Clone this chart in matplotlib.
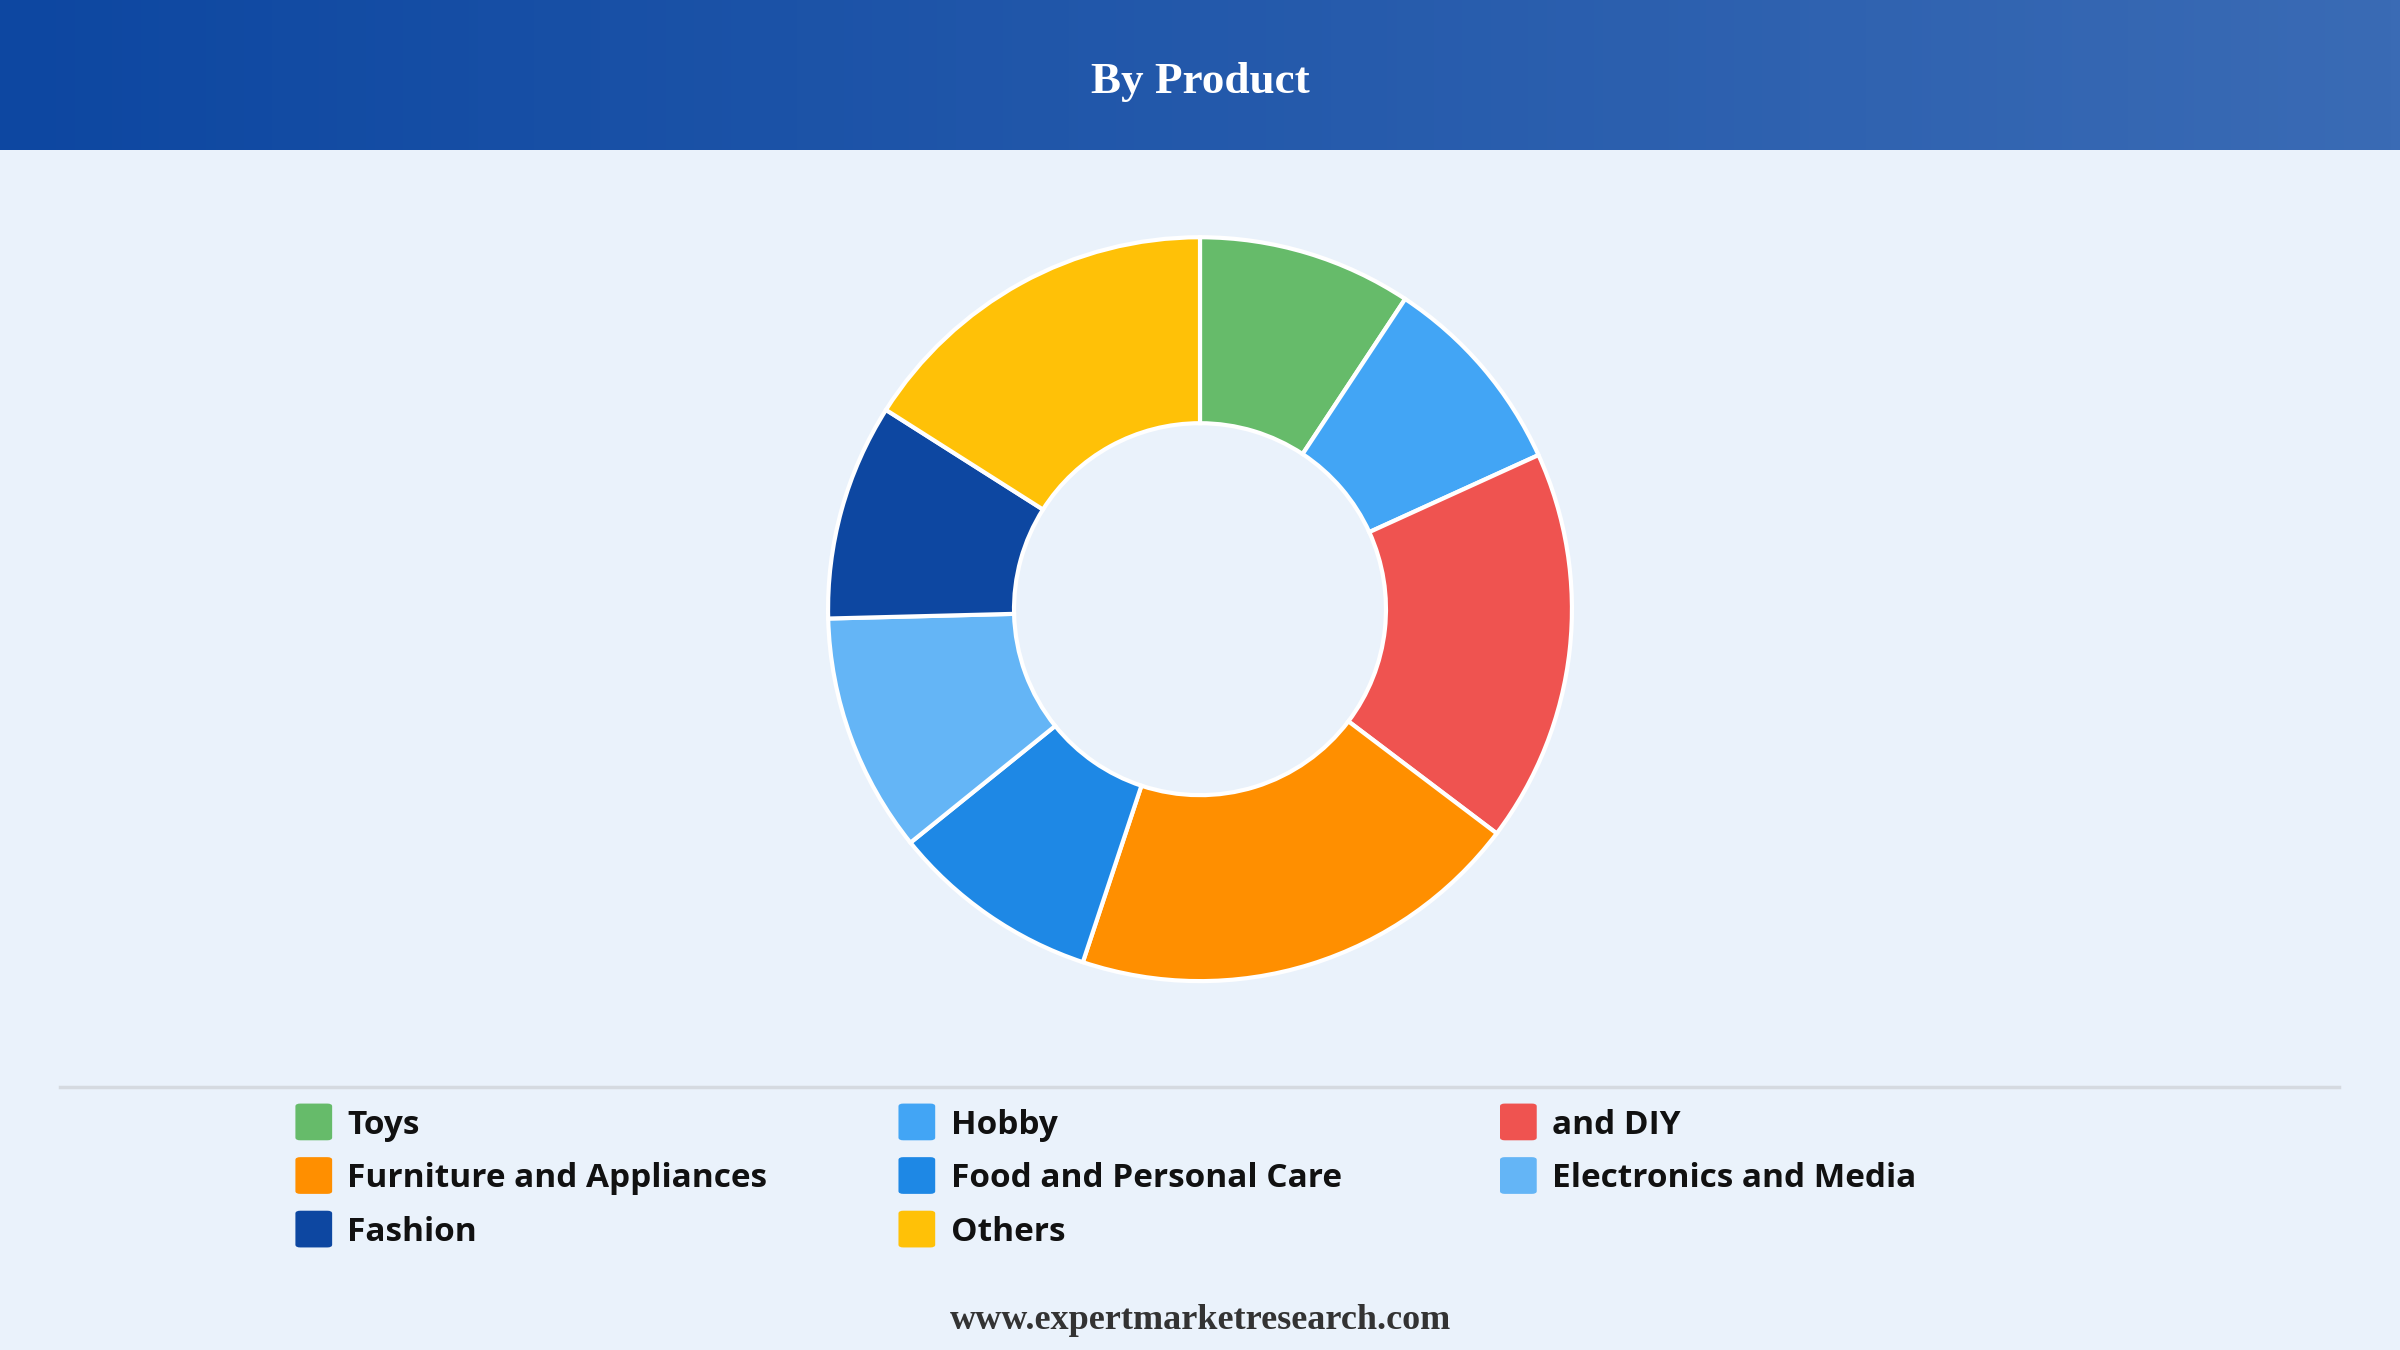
import numpy as np
from matplotlib import pyplot as plt
from matplotlib.patches import FancyBboxPatch
from matplotlib.colors import LinearSegmentedColormap

labels = ['Toys', 'Hobby', 'and DIY', 'Furniture and Appliances', 'Food and Personal Care',
          'Electronics and Media', 'Fashion', 'Others']
shares = [9.3, 8.9, 17.1, 19.8, 9.1, 10.4, 9.4, 16.0]
colors = ['#66BB6A', '#42A5F5', '#EF5350', '#FF8F00', '#1E88E5', '#64B5F6', '#0D47A1', '#FFC107']

W, H = 1568, 882  # reference layout units
fig = plt.figure(figsize=(24, 13.5), dpi=100)
fig.patch.set_facecolor('#EAF2FB')

# header band with gradient
hax = fig.add_axes([0, 1 - 98 / H, 1, 98 / H])
grad = np.linspace(0, 1, 256)[None, :]
cmap = LinearSegmentedColormap.from_list('hdr', ['#0D47A1', '#3A6BB5'])
hax.imshow(grad, aspect='auto', cmap=cmap, extent=[0, 1, 0, 1])
hax.set_axis_off()
hax.text(0.5, 0.45, 'By Product', ha='center', va='center', color='white',
         fontsize=32.5, fontweight='bold', family='Liberation Serif')

# donut
r = 243 / H
cy = 1 - 398 / H
w = 2 * r * H / W
ax = fig.add_axes([0.5 - w / 2, cy - r, w, 2 * r])
ax.pie(shares, colors=colors, startangle=90, counterclock=False, radius=1,
       wedgeprops=dict(width=0.5, edgecolor='white', linewidth=3))
ax.set_xlim(-1, 1)
ax.set_ylim(-1, 1)
ax.set_aspect('equal')
ax.set_axis_off()

# separator line
fig.add_artist(plt.Line2D([39 / W, 1528 / W], [1 - 710 / H] * 2, color='#D5DAE0',
                          linewidth=2.5, transform=fig.transFigure))

# legend
col_x = [193, 587, 980]
row_y = [733, 768, 803]
sq = 24
for i, (lab, c) in enumerate(zip(labels, colors)):
    x = col_x[i % 3]
    y = row_y[i // 3]
    fig.add_artist(FancyBboxPatch((x / W, 1 - (y + sq / 2) / H), sq / W, sq / H,
                                  boxstyle='round,pad=0,rounding_size=0.002',
                                  facecolor=c, edgecolor='none', transform=fig.transFigure))
    fig.text((x + 34) / W, 1 - (y + 2) / H, lab, ha='left', va='center', fontsize=24,
             fontweight='bold', color='#111111', family='Open Sans')

fig.text(0.5, 1 - 863 / H, 'www.expertmarketresearch.com', ha='center', va='center',
         fontsize=26, fontweight='bold', color='#333333', family='Liberation Serif')

plt.savefig('out.png', facecolor=fig.get_facecolor())
